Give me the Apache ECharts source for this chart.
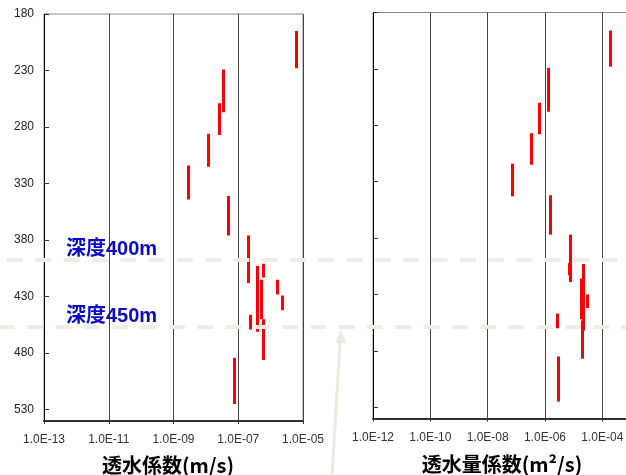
<!DOCTYPE html>
<html>
<head>
<meta charset="utf-8">
<script src="https://cdn.jsdelivr.net/npm/echarts@6/dist/echarts.min.js"></script>
<style>
  html, body { margin: 0; padding: 0; background: #fff; }
  #chart { width: 626px; height: 475px; }
</style>
</head>
<body>
<div id="chart"></div>
<script>
// Depth axis (m), shared by both panels
const depthTicks = [180, 230, 280, 330, 380, 430, 480, 530];
const depthMax = 540;

// Hydraulic conductivity k (m/s) for each tested interval
const kTop    = [195, 229, 259, 286, 314, 341, 376, 403, 401, 415, 450, 415, 429, 446, 484];
const kBottom = [228, 267, 287, 315, 344, 376, 418, 461, 413, 450, 486, 428, 442, 459, 525];
const kValue  = [6.2e-6, 3.5e-8, 2.6e-8, 1.2e-8, 2.8e-9, 4.8e-8, 2.1e-7, 3.9e-7, 6.0e-7,
                 5.1e-7, 5.8e-7, 1.6e-6, 2.3e-6, 2.3e-7, 7.6e-8];

// Transmissivity T (m2/s) for each tested interval
const tTop    = [196, 229, 260, 287, 314, 342, 377, 402, 403, 416, 430, 453, 447, 485];
const tBottom = [228, 268, 288, 315, 343, 377, 419, 413, 462, 452, 442, 487, 460, 525];
const tValue  = [1.95e-4, 1.26e-6, 6.2e-7, 3.2e-7, 7.4e-8, 1.55e-6, 7.9e-6, 7.1e-6, 2.24e-5,
                 1.78e-5, 2.9e-5, 2.0e-5, 2.7e-6, 2.9e-6];

// Labelled decades (powers of ten) on each horizontal axis
const kExponents = [-13, -11, -9, -7, -5];
const tExponents = [-12, -10, -8, -6, -4];
const tAxisMaxExp = -3;

function expLabel(e) {
  const n = Math.abs(Math.round(e));
  return '1.0E' + (e < 0 ? '-' : '+') + (n < 10 ? '0' + n : String(n));
}

function segments(values, tops, bottoms) {
  return values.map((v, i) => ({
    coords: [[Math.log10(v), tops[i]], [Math.log10(v), bottoms[i]]]
  }));
}

function xAxisFor(gridIndex, exps, maxExp, title, titlePad, gap) {
  return {
    type: 'value', gridIndex: gridIndex,
    min: exps[0], max: maxExp, interval: 2,
    axisLine: { show: true, lineStyle: { color: '#333', width: 2 } },
    axisTick: { show: true, inside: false, length: 3, lineStyle: { color: '#333' } },
    axisLabel: {
      margin: 13, color: '#333', fontSize: 12, fontFamily: 'Liberation Sans',
      formatter: v => (exps.indexOf(Math.round(v)) >= 0 ? expLabel(v) : '')
    },
    splitLine: { show: true, lineStyle: { color: '#444', width: 1 } },
    name: title, nameLocation: 'middle', nameGap: gap,
    nameTextStyle: {
      fontSize: 20, fontWeight: 'bold', color: '#000',
      fontFamily: '"Noto Sans CJK JP"', padding: titlePad
    }
  };
}

function yAxisFor(gridIndex, showLabels) {
  return {
    type: 'value', gridIndex: gridIndex, inverse: true,
    min: depthTicks[0], max: depthMax, interval: 50,
    axisLine: { show: true, lineStyle: { color: '#000', width: 1 } },
    axisTick: { show: true, inside: true, length: 5, lineStyle: { color: '#333' } },
    axisLabel: {
      show: showLabels, margin: 10, color: '#222', fontSize: 12, fontFamily: 'Liberation Sans',
      formatter: v => (depthTicks.indexOf(v) >= 0 ? String(v) : '')
    },
    splitLine: { show: false }
  };
}

const chart = echarts.init(document.getElementById('chart'), null, { renderer: 'canvas' });

const dashStyle = { stroke: '#efeee6', lineWidth: 4, lineDash: [16, 12.3] };
const depthFont = 'bold 20px "Liberation Sans", "Noto Sans CJK JP"';

chart.setOption({
  animation: false,
  backgroundColor: '#fff',
  grid: [
    { left: 44, top: 14, width: 259, height: 407, outerBoundsMode: 'none',
      show: true, borderColor: '#888', borderWidth: 1 },
    { left: 373, top: 12.5, width: 258, height: 406, outerBoundsMode: 'none',
      show: true, borderColor: '#888', borderWidth: 1 }
  ],
  xAxis: [
    xAxisFor(0, kExponents, kExponents[kExponents.length - 1], '透水係数(m/s)', [0, 11, 0, 0], 34),
    xAxisFor(1, tExponents, tAxisMaxExp, '透水量係数(m²/s)', [0, 0, 0, 0], 36)
  ],
  yAxis: [yAxisFor(0, true), yAxisFor(1, false)],
  series: [
    {
      type: 'lines', coordinateSystem: 'cartesian2d', xAxisIndex: 0, yAxisIndex: 0,
      silent: true, z: 3,
      lineStyle: { color: '#ff0000', width: 3, opacity: 1 },
      data: segments(kValue, kTop, kBottom)
    },
    {
      type: 'lines', coordinateSystem: 'cartesian2d', xAxisIndex: 1, yAxisIndex: 1,
      silent: true, z: 3,
      lineStyle: { color: '#ff0000', width: 3, opacity: 1 },
      data: segments(tValue, tTop, tBottom)
    }
  ],
  graphic: [
    // depth guide lines across both panels
    { type: 'line', z: 100, shape: { x1: 7, y1: 260, x2: 626, y2: 260 }, style: dashStyle },
    { type: 'line', z: 100, shape: { x1: -1, y1: 327, x2: 626, y2: 327 }, style: dashStyle },
    // pointer arrow
    { type: 'line', z: 100, shape: { x1: 332, y1: 476, x2: 340.3, y2: 338 },
      style: { stroke: '#ebeae0', lineWidth: 3 } },
    { type: 'polygon', z: 100, shape: { points: [[340.8, 329], [335.3, 343], [346, 343]] },
      style: { fill: '#ebeae0' } },
    // depth labels
    { type: 'text', z: 101, x: 66, y: 249,
      style: { text: '深度400m', fill: '#0a0ac8', verticalAlign: 'middle', font: depthFont } },
    { type: 'text', z: 101, x: 66, y: 316,
      style: { text: '深度450m', fill: '#0a0ac8', verticalAlign: 'middle', font: depthFont } }
  ]
});
</script>
</body>
</html>
